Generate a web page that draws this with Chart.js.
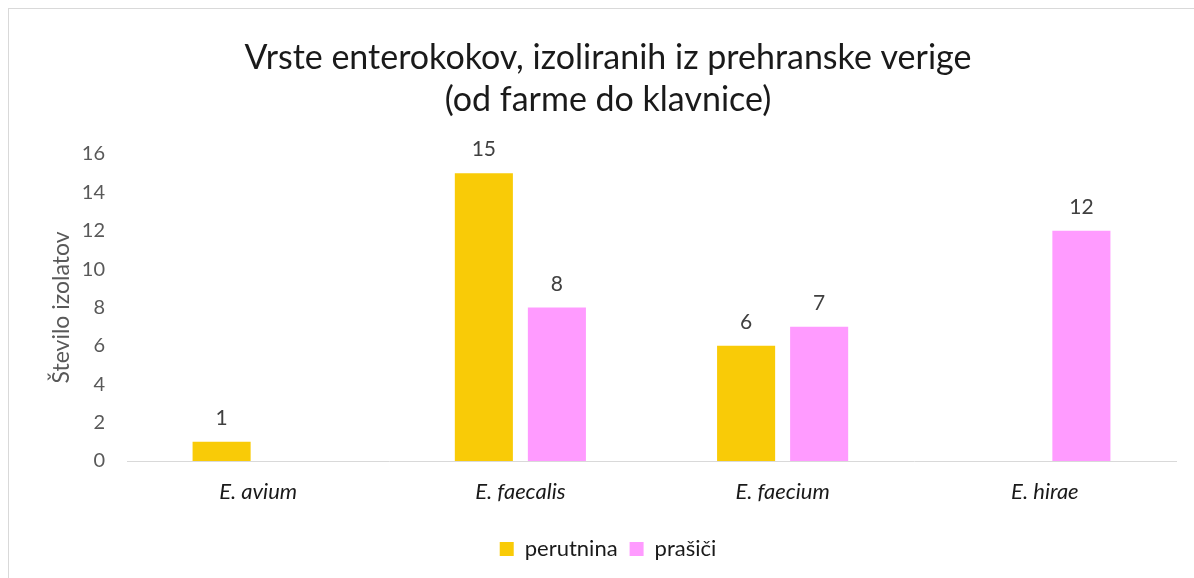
<!DOCTYPE html>
<html>
<head>
<meta charset="utf-8">
<script src="https://cdn.jsdelivr.net/npm/chart.js@4/dist/chart.umd.min.js"></script>
<style>
    html, body { margin: 0; padding: 0; background: #fff; overflow: hidden; }
    #frame { position: absolute; left: 8px; top: 8px; width: 1300px; height: 700px; border: 1px solid #d9d9d9; }
    #wrap { position: absolute; left: 0; top: 0; width: 1194px; height: 578px; }
</style>
</head>
<body>
<div id="frame"></div>
<div id="wrap"><canvas id="enterokokiChart"></canvas></div>
<script>
const categories = ['E. avium', 'E. faecalis', 'E. faecium', 'E. hirae'];
const seriesNames = ['perutnina', 'prašiči'];
const perutnina = [1, 15, 6, 0];
const prasici = [0, 8, 7, 12];
const yTicks = [0, 2, 4, 6, 8, 10, 12, 14, 16];
const titleLines = ['Vrste enterokokov, izoliranih iz prehranske verige', '(od farme do klavnice)'];
const yTitle = 'Število izolatov';

const FONT = 'Lato, "Open Sans", sans-serif';

// Value labels above bars (zero values stay hidden, like in the original)
const barLabels = {
    id: 'barLabels',
    afterDatasetsDraw(chart) {
        const ctx = chart.ctx;
        ctx.save();
        ctx.font = '21px ' + FONT;
        ctx.fillStyle = '#404040';
        ctx.textAlign = 'center';
        ctx.textBaseline = 'bottom';
        chart.data.datasets.forEach((ds, i) => {
            chart.getDatasetMeta(i).data.forEach((bar, j) => {
                if (!ds.data[j]) return;
                ctx.fillText(String(ds.data[j]), bar.x, bar.y - 13);
            });
        });
        ctx.restore();
    }
};

document.addEventListener('DOMContentLoaded', function() {
    const ctx = document.getElementById('enterokokiChart').getContext('2d');
    new Chart(ctx, {
        type: 'bar',
        data: {
            labels: categories,
            datasets: [{
                label: seriesNames[0],
                data: perutnina,
                backgroundColor: '#F9CB07',
                categoryPercentage: 0.557,
                barPercentage: 0.795
            }, {
                label: seriesNames[1],
                data: prasici,
                backgroundColor: '#FF9BFF',
                categoryPercentage: 0.557,
                barPercentage: 0.795
            }]
        },
        options: {
            responsive: true,
            maintainAspectRatio: false,
            animation: false,
            layout: {
                padding: { left: 40, right: 18, top: 0, bottom: 8 }
            },
            plugins: {
                title: {
                    display: true,
                    text: titleLines,
                    color: '#1a1a1a',
                    font: { family: FONT, size: 34, weight: 'normal', lineHeight: 1.235 },
                    padding: { top: 37, bottom: 33 }
                },
                legend: {
                    position: 'bottom',
                    labels: {
                        color: '#1a1a1a',
                        font: { family: FONT, size: 22 },
                        boxWidth: 14,
                        boxHeight: 14,
                        padding: 12
                    }
                },
                tooltip: { enabled: false }
            },
            scales: {
                x: {
                    grid: { display: false, drawTicks: false },
                    border: { display: true, color: '#d9d9d9', width: 1 },
                    ticks: {
                        color: '#1a1a1a',
                        font: { family: FONT, size: 22, style: 'italic' },
                        padding: 18
                    },
                    afterFit(scale) { scale.height = 65; }
                },
                y: {
                    min: 0,
                    max: 16,
                    grid: { display: false, drawTicks: false },
                    border: { display: false },
                    afterBuildTicks(scale) { scale.ticks = yTicks.map(v => ({ value: v })); },
                    ticks: {
                        color: '#595959',
                        font: { family: FONT, size: 20 },
                        padding: 22
                    },
                    title: {
                        display: true,
                        text: yTitle,
                        color: '#595959',
                        font: { family: FONT, size: 23 },
                        padding: { top: 8, bottom: 0 }
                    },
                    afterFit(scale) { scale.width = 87; }
                }
            }
        },
        plugins: [barLabels]
    });
});
</script>
</body>
</html>
